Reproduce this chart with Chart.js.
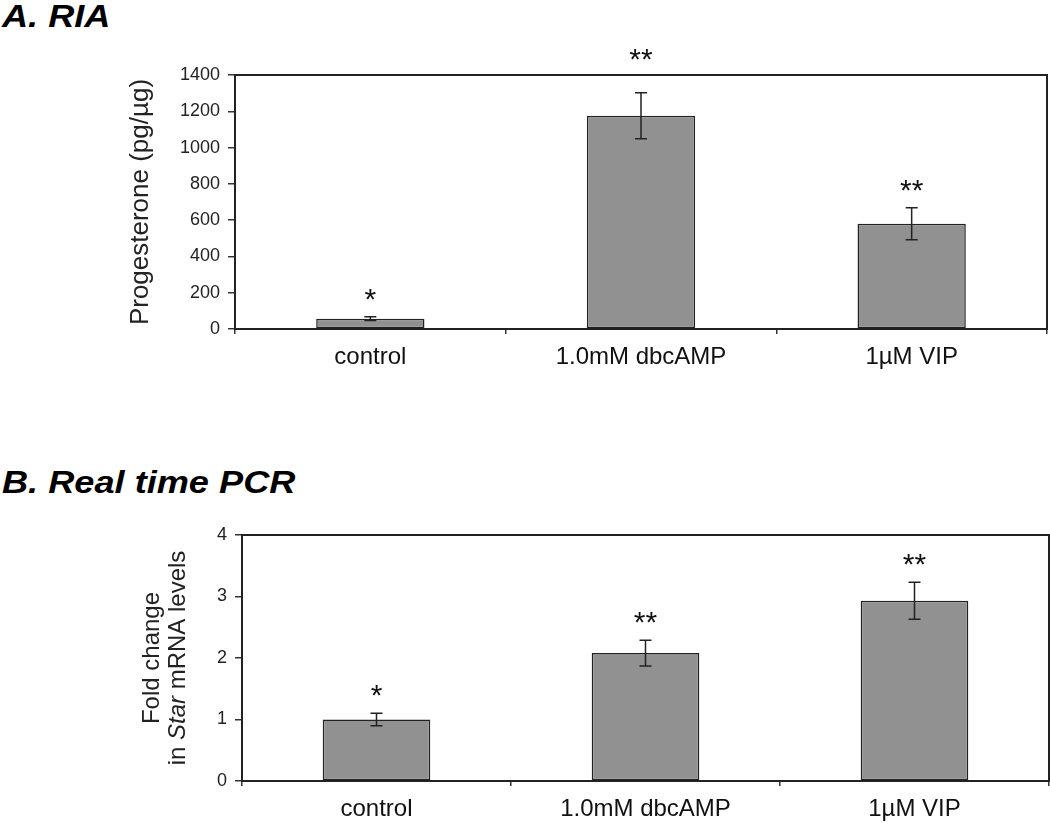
<!DOCTYPE html>
<html>
<head>
<meta charset="utf-8">
<script src="https://cdn.jsdelivr.net/npm/chart.js@4/dist/chart.umd.min.js"></script>
<style>
  body { margin: 0; background: #fff; width: 1050px; height: 823px; position: relative; overflow: hidden; }
  .hdr { position: absolute; left: 2px; font: italic bold 32px "Liberation Sans", Arial, sans-serif; line-height: 32px; color: #000; white-space: nowrap; transform: scaleX(1.13); transform-origin: left top; }
  canvas { position: absolute; left: 0; }
</style>
</head>
<body>
<div class="hdr" style="top:0px">A. RIA</div>
<div class="hdr" style="top:466px">B. Real time PCR</div>
<canvas id="ria" width="1050" height="420" style="top:0"></canvas>
<canvas id="pcr" width="1050" height="403" style="top:420px"></canvas>
<script>
const categories = ["control", "1.0mM dbcAMP", "1µM VIP"];
const progesterone = [57, 1175, 580];
const progesteroneErr = [10, 127, 88];
const foldChange = [1.0, 2.08, 2.93];
const foldChangeErr = [0.1, 0.21, 0.3];
const signif = ["*", "**", "**"];

Chart.defaults.font.family = '"Liberation Sans", Arial, sans-serif';
Chart.defaults.color = "#222";

// frame, error bars, significance stars, y title
const annot = {
  id: "annot",
  afterDraw(chart, args, opts) {
    const { ctx, chartArea: a, scales: { x, y } } = chart;
    const vals = chart.data.datasets[0].data;
    const T = Math.round(a.top), B = Math.round(a.bottom);
    const L = Math.round(a.left), R = Math.round(a.right);
    ctx.save();
    ctx.fillStyle = "#222";
    ctx.fillRect(L - 1, T - 1, R - L + 2, 2);
    ctx.fillRect(L - 1, B - 1, R - L + 2, 2);
    ctx.fillRect(L - 1, T - 1, 2, B - T + 2);
    ctx.fillRect(R - 1, T - 1, 2, B - T + 2);

    ctx.strokeStyle = "#222";
    ctx.lineWidth = 1.5;
    vals.forEach((v, i) => {
      const cx = x.getPixelForValue(i);
      const hi = y.getPixelForValue(v + opts.err[i]);
      const lo = y.getPixelForValue(v - opts.err[i]);
      ctx.beginPath();
      ctx.moveTo(cx, hi); ctx.lineTo(cx, lo);
      ctx.moveTo(cx - 6, hi); ctx.lineTo(cx + 6, hi);
      ctx.moveTo(cx - 6, lo); ctx.lineTo(cx + 6, lo);
      ctx.stroke();

      // star sits above the error bar; if it would hit the frame, lift it over the line
      let sy = hi - 25;
      if (Math.abs(sy - T) < 20) {
        sy = T - 23;
        ctx.fillStyle = "#fff";
        ctx.fillRect(cx - 35, sy - 14, 70, 30);
      }
      ctx.fillStyle = "#111";
      ctx.font = '30px "Liberation Sans", Arial, sans-serif';
      ctx.textAlign = "center";
      ctx.textBaseline = "alphabetic";
      ctx.fillText(signif[i], cx, sy + 17);
    });

    // rotated axis title, parts may be italic
    ctx.translate(0, (T + B) / 2);
    ctx.rotate(-Math.PI / 2);
    ctx.fillStyle = "#222";
    ctx.textBaseline = "middle";
    ctx.textAlign = "left";
    opts.title.forEach(line => {
      const fonts = line.parts.map(p => (p.italic ? "italic " : "") + opts.titleSize + 'px "Liberation Sans", Arial, sans-serif');
      let total = 0;
      line.parts.forEach((p, k) => { ctx.font = fonts[k]; total += ctx.measureText(p.text).width; });
      let px = -total / 2;
      line.parts.forEach((p, k) => {
        ctx.font = fonts[k];
        ctx.fillText(p.text, px, line.x);
        px += ctx.measureText(p.text).width;
      });
    });
    ctx.restore();
  }
};

function makeChart(id, values, errs, yMax, yStep, pad, yWidth, xHeight, title, titleSize) {
  return new Chart(document.getElementById(id), {
    type: "bar",
    data: {
      labels: categories,
      datasets: [{
        data: values,
        backgroundColor: "rgb(145,145,145)",
        borderColor: "#222",
        borderWidth: 1.5,
        borderSkipped: false,
        categoryPercentage: 1,
        barPercentage: 0.4,
      }],
    },
    options: {
      responsive: false,
      animation: false,
      layout: { padding: pad },
      plugins: {
        legend: { display: false },
        tooltip: { enabled: false },
        annot: { err: errs, title: title, titleSize: titleSize },
      },
      scales: {
        x: {
          border: { display: false },
          grid: { offset: true, drawOnChartArea: false, tickLength: 5, color: "#333", lineWidth: 1.5 },
          ticks: { font: { size: 24 }, padding: 9, color: "#111" },
          afterFit: s => { s.height = xHeight; },
        },
        y: {
          min: 0,
          max: yMax,
          border: { display: false },
          grid: { drawOnChartArea: false, tickLength: 7, color: "#333", lineWidth: 1.5 },
          ticks: { stepSize: yStep, font: { size: 18 }, padding: 8, color: "#222", callback: v => String(v) },
          afterFit: s => { s.width = yWidth; },
        },
      },
    },
    plugins: [annot],
  });
}

makeChart("ria", progesterone, progesteroneErr, 1400, 200,
  { top: 75, right: 3, left: 0, bottom: 0 }, 235, 91,
  [{ x: 141, parts: [{ text: "Progesterone (pg/µg)" }] }], 26);

makeChart("pcr", foldChange, foldChangeErr, 4, 1,
  { top: 115, right: 1, left: 0, bottom: 0 }, 242, 42,
  [
    { x: 152, parts: [{ text: "Fold change" }] },
    { x: 178, parts: [{ text: "in " }, { text: "Star", italic: true }, { text: " mRNA levels" }] },
  ], 24);
</script>
</body>
</html>
